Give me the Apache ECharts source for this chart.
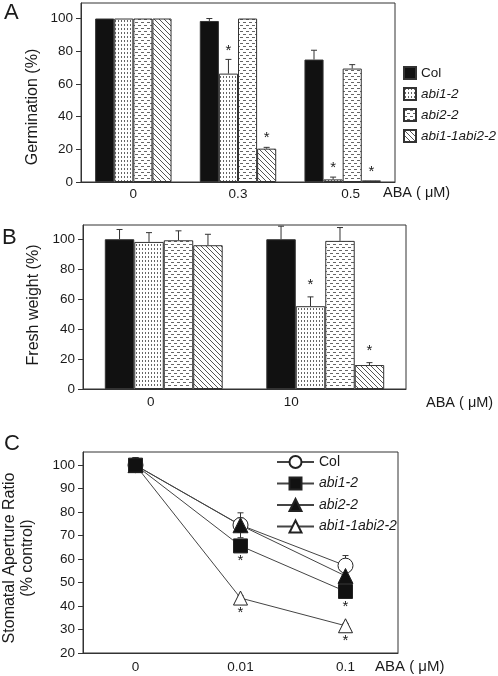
<!DOCTYPE html>
<html><head><meta charset="utf-8">
<script src="https://cdn.jsdelivr.net/npm/echarts@6/dist/echarts.min.js"></script>
<style>html,body{margin:0;padding:0;background:#fff}#c{width:498px;height:676px}</style>
</head><body><div id="c"></div><script>
// ---------- Data ----------
const genotypes = ['Col', 'abi1-2', 'abi2-2', 'abi1-1abi2-2'];
// Panel A : germination (%)
const abaA = ['0', '0.3', '0.5'];
const germCol = [100, 98.5, 74.9];
const germAbi12 = [100, 66.3, 1.6];
const germAbi22 = [100, 100, 69.4];
const germDouble = [100, 20.4, 1.0];
const germColErr = [0, 1.5, 5.7];
const germAbi12Err = [0, 8.7, 1.4];
const germAbi22Err = [0, 0, 2.4];
const germDoubleErr = [0, 0.8, 0];
const germColStar = [0, 0, 0];
const germAbi12Star = [0, 1, 1];
const germAbi22Star = [0, 0, 0];
const germDoubleStar = [0, 1, 1];
// Panel B : fresh weight (%)
const abaB = ['0', '10'];
const fwCol = [100, 100];
const fwAbi12 = [98.2, 55.3];
const fwAbi22 = [99.3, 98.9];
const fwDouble = [96, 16];
const fwColErr = [6.5, 8.7];
const fwAbi12Err = [6.2, 6.2];
const fwAbi22Err = [6.3, 8.9];
const fwDoubleErr = [7.3, 1.6];
const fwColStar = [0, 0];
const fwAbi12Star = [0, 1];
const fwAbi22Star = [0, 0];
const fwDoubleStar = [0, 1];
// Panel C : stomatal aperture ratio (% control)
const abaC = ['0', '0.01', '0.1'];
const saCol = [100, 74.5, 57.2];
const saAbi12 = [100, 65.6, 46.2];
const saAbi22 = [100, 74.4, 52.8];
const saDouble = [100, 43.4, 31.6];
const saColErr = [3, 3, 4.3];
const saAbi12Err = [3, 2, 2];
const saAbi22Err = [3, 5.3, 2];
const saDoubleErr = [3, 1, 1];
const saAbi12Star = [0, 1, 1];
const saDoubleStar = [0, 1, 1];
// Tick labels
const ticksAB = [0, 20, 40, 60, 80, 100];
const ticksC = [20, 30, 40, 50, 60, 70, 80, 90, 100];

// ---------- Styles ----------
const FONT = '"Liberation Sans", Arial, sans-serif';
const INK = '#1a1a1a';
const EDGE = '#333';

function makePattern(kind) {
  const c = document.createElement('canvas');
  const ctx = c.getContext('2d');
  if (kind === 'dots') {
    c.width = 3; c.height = 4;
    ctx.fillStyle = '#fff'; ctx.fillRect(0, 0, 3, 4);
    ctx.fillStyle = '#666'; ctx.fillRect(1, 0, 1, 2);
  } else if (kind === 'dash') {
    c.width = 6; c.height = 6;
    ctx.fillStyle = '#fff'; ctx.fillRect(0, 0, 6, 6);
    ctx.fillStyle = '#666';
    ctx.fillRect(0, 1, 3, 1);
    ctx.fillRect(3, 4, 3, 1);
  } else {
    c.width = 5; c.height = 5;
    ctx.fillStyle = '#fff'; ctx.fillRect(0, 0, 5, 5);
    ctx.fillStyle = '#555';
    for (let i = 0; i < 5; i++) { ctx.fillRect(i, i, 1, 1); }
  }
  return { image: c, repeat: 'repeat' };
}
const fills = ['#111', makePattern('dots'), makePattern('dash'), makePattern('diag')];

const GAP = 0.27;
function barErrRender(starOff) {
  return function (params, api) {
    const cat = api.value(0), val = api.value(1), err = api.value(2), k = api.value(3), star = api.value(4);
    const band = api.size([1, 0])[0];
    const gw = band * (1 - GAP), bw = gw / 4;
    const base = api.coord([cat, val]);
    const x = base[0] - gw / 2 + (k + 0.5) * bw;
    const top = api.coord([cat, val + err])[1];
    const ch = [];
    if (err > 0) {
      ch.push({ type: 'line', shape: { x1: x, y1: base[1], x2: x, y2: top }, style: { stroke: EDGE, lineWidth: 1 } });
      ch.push({ type: 'line', shape: { x1: x - 3, y1: top, x2: x + 3, y2: top }, style: { stroke: EDGE, lineWidth: 1 } });
    }
    if (star) ch.push({ type: 'text', style: { text: '*', x: x, y: top - starOff, align: 'center', verticalAlign: 'middle', font: '15px ' + FONT, fill: INK } });
    return { type: 'group', children: ch };
  };
}
function lineErrRender(params, api) {
  const cat = api.value(0), val = api.value(1), err = api.value(2), star = api.value(3);
  const p = api.coord([cat, val]);
  const t = api.coord([cat, val + err])[1];
  const b = api.coord([cat, val - err])[1];
  const ch = [
    { type: 'line', shape: { x1: p[0], y1: t, x2: p[0], y2: b }, style: { stroke: EDGE, lineWidth: 1 } },
    { type: 'line', shape: { x1: p[0] - 3, y1: t, x2: p[0] + 3, y2: t }, style: { stroke: EDGE, lineWidth: 1 } },
    { type: 'line', shape: { x1: p[0] - 3, y1: b, x2: p[0] + 3, y2: b }, style: { stroke: EDGE, lineWidth: 1 } }
  ];
  if (star) ch.push({ type: 'text', style: { text: '*', x: p[0], y: p[1] + 15, align: 'center', verticalAlign: 'middle', font: '15px ' + FONT, fill: INK } });
  return { type: 'group', children: ch };
}

function errData(vals, errs, k, stars) {
  return vals.map((v, i) => [i, v, errs[i], k, stars[i]]);
}

const gridA = { left: 81, top: 3, width: 314, height: 179 };
const gridB = { left: 83, top: 225, width: 323, height: 164 };
const gridC = { left: 83, top: 452, width: 315, height: 201 };
const gridStyle = { show: true, borderColor: EDGE, borderWidth: 1, backgroundColor: 'transparent' };

// per-label horizontal nudges (padding [left,right]) to follow the original label placement
function xAx(idx, cats, margin, pads) {
  const rich = {};
  cats.forEach((c, i) => {
    rich['s' + i] = { fontSize: 13.5, fontFamily: FONT, color: INK, padding: [0, pads[i][1], 0, pads[i][0]] };
  });
  return {
    type: 'category', gridIndex: idx, data: cats,
    axisLine: { show: true, lineStyle: { color: EDGE } },
    axisTick: { show: false },
    axisLabel: { color: INK, fontSize: 13.5, fontFamily: FONT, margin: margin, rich: rich,
      formatter: (v, i) => '{s' + i + '|' + v + '}' },
    splitLine: { show: false }
  };
}
function yAx(idx, min, max, ticks, interval) {
  return {
    type: 'value', gridIndex: idx, min: min, max: max, interval: interval,
    axisLine: { show: true, lineStyle: { color: EDGE } },
    axisTick: { show: true, length: 5, lineStyle: { color: EDGE }, customValues: ticks },
    axisLabel: { color: INK, fontSize: 13.5, fontFamily: FONT, margin: 8, customValues: ticks,
      formatter: v => (v > ticks[ticks.length - 1] ? '' : String(v)) },
    splitLine: { show: false }
  };
}

const barSeries = [];
const barVals = [[germCol, germAbi12, germAbi22, germDouble], [fwCol, fwAbi12, fwAbi22, fwDouble]];
const barErrs = [[germColErr, germAbi12Err, germAbi22Err, germDoubleErr], [fwColErr, fwAbi12Err, fwAbi22Err, fwDoubleErr]];
const barStars = [[germColStar, germAbi12Star, germAbi22Star, germDoubleStar], [fwColStar, fwAbi12Star, fwAbi22Star, fwDoubleStar]];
for (let p = 0; p < 2; p++) {
  for (let k = 0; k < 4; k++) {
    barSeries.push({
      type: 'bar', name: genotypes[k], xAxisIndex: p, yAxisIndex: p,
      data: barVals[p][k], barCategoryGap: (GAP * 100) + '%', barGap: '0%',
      itemStyle: { color: fills[k], borderColor: EDGE, borderWidth: 1 },
      emphasis: { disabled: true }, silent: true
    });
  }
  for (let k = 0; k < 4; k++) {
    barSeries.push({
      type: 'custom', xAxisIndex: p, yAxisIndex: p, renderItem: barErrRender(p === 0 ? 9 : 12),
      encode: { x: 0, y: 1 }, data: errData(barVals[p][k], barErrs[p][k], k, barStars[p][k]), silent: true, z: 5
    });
  }
}

const lineDefs = [
  { name: 'C:Col', vals: saCol, errs: saColErr, stars: [0, 0, 0], symbol: 'circle', size: 15, fill: '#fff' },
  { name: 'C:abi1-1abi2-2', vals: saDouble, errs: saDoubleErr, stars: saDoubleStar, symbol: 'triangle', size: 14, fill: '#fff' },
  { name: 'C:abi2-2', vals: saAbi22, errs: saAbi22Err, stars: [0, 0, 0], symbol: 'triangle', size: 15, fill: '#111' },
  { name: 'C:abi1-2', vals: saAbi12, errs: saAbi12Err, stars: saAbi12Star, symbol: 'rect', size: 14, fill: '#111' }
];
const lineSeries = [];
lineDefs.forEach(d => {
  lineSeries.push({
    type: 'custom', xAxisIndex: 2, yAxisIndex: 2, renderItem: lineErrRender, encode: { x: 0, y: 1 },
    data: d.vals.map((v, i) => [i, v, d.errs[i], d.stars[i]]), silent: true, z: 1
  });
});
lineDefs.forEach(d => {
  lineSeries.push({
    type: 'line', name: d.name, xAxisIndex: 2, yAxisIndex: 2, data: d.vals,
    symbol: d.symbol, symbolSize: d.size, showAllSymbol: true,
    lineStyle: { color: '#444', width: 1 },
    itemStyle: { color: d.fill, borderColor: '#222', borderWidth: 1, opacity: 1 },
    emphasis: { disabled: true }, silent: true, z: 3
  });
});

const legendText = {
  color: INK, fontSize: 13.5, fontFamily: FONT,
  rich: { i: { fontStyle: 'italic', fontSize: 13.5, fontFamily: FONT, color: INK } }
};
const legendTextC = {
  color: INK, fontSize: 14, fontFamily: FONT,
  rich: { i: { fontStyle: 'italic', fontSize: 14, fontFamily: FONT, color: INK } }
};
const fmtLegend = n => { const s = n.replace(/^C:/, ''); return s === 'Col' ? s : '{i|' + s + '}'; };

const textStyleBase = { fill: INK };
const option = {
  animation: false,
  backgroundColor: '#fff',
  grid: [Object.assign({}, gridA, gridStyle), Object.assign({}, gridB, gridStyle), Object.assign({}, gridC, gridStyle)],
  xAxis: [
    xAx(0, abaA, 5, [[0, 0], [0, 0], [16, 0]]),
    xAx(1, abaB, 6, [[0, 26], [0, 68]]),
    xAx(2, abaC, 7, [[0, 0], [0, 0], [0, 0]])
  ],
  yAxis: [yAx(0, 0, 109.5, ticksAB, 20), yAx(1, 0, 109.5, ticksAB, 20), yAx(2, 20, 105.6, ticksC, 10)],
  legend: [
    { data: genotypes, orient: 'vertical', left: 403, top: 66, padding: 0, itemWidth: 12, itemHeight: 12, itemGap: 7,
      icon: 'rect', selectedMode: false, textStyle: legendText, formatter: fmtLegend },
    { data: ['C:Col', 'C:abi1-2', 'C:abi2-2', 'C:abi1-1abi2-2'], orient: 'vertical', left: 276, top: 455, padding: 0,
      itemWidth: 37, itemHeight: 15, itemGap: 7.5, selectedMode: false, textStyle: legendTextC, formatter: fmtLegend }
  ],
  series: barSeries.concat(lineSeries),
  graphic: [
    { type: 'text', left: 4, top: 2, style: { text: 'A', fill: INK, font: '22px ' + FONT } },
    { type: 'text', left: 2, top: 227, style: { text: 'B', fill: INK, font: '22px ' + FONT } },
    { type: 'text', left: 4, top: 433, style: { text: 'C', fill: INK, font: '22px ' + FONT } },
    { type: 'text', x: 33, y: 107, rotation: Math.PI / 2, style: { text: 'Germination (%)', fill: INK, font: '16px ' + FONT, align: 'center', verticalAlign: 'middle' } },
    { type: 'text', x: 34, y: 305, rotation: Math.PI / 2, style: { text: 'Fresh weight (%)', fill: INK, font: '16px ' + FONT, align: 'center', verticalAlign: 'middle' } },
    { type: 'text', x: 19, y: 558, rotation: Math.PI / 2, style: { text: 'Stomatal Aperture Ratio\n(% control)', fill: INK, font: '16px ' + FONT, align: 'center', verticalAlign: 'middle', lineHeight: 18 } },
    { type: 'text', x: 383, y: 193, style: Object.assign({ text: 'ABA ( μM)', verticalAlign: 'middle', font: '14.5px ' + FONT }, textStyleBase) },
    { type: 'text', x: 426, y: 403, style: Object.assign({ text: 'ABA ( μM)', verticalAlign: 'middle', font: '14.5px ' + FONT }, textStyleBase) },
    { type: 'text', x: 375, y: 667, style: Object.assign({ text: 'ABA ( μM)', verticalAlign: 'middle', font: '15px ' + FONT }, textStyleBase) }
  ]
};
const chart = echarts.init(document.getElementById('c'), null, { renderer: 'canvas' });
chart.setOption(option);
</script></body></html>
